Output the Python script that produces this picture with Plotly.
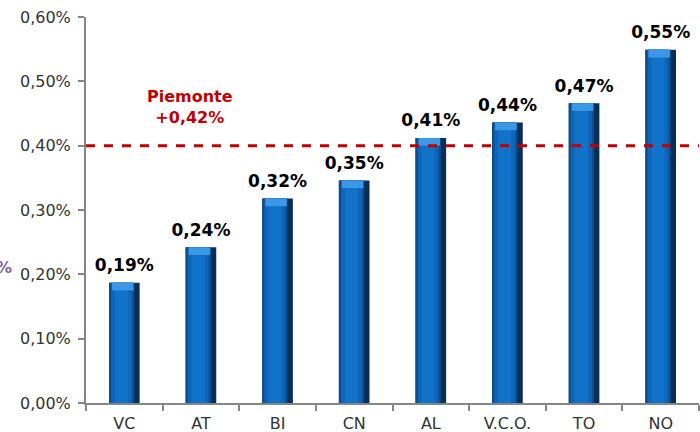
import plotly.graph_objects as go

categories = ["VC", "AT", "BI", "CN", "AL", "V.C.O.", "TO", "NO"]
values = [0.187, 0.242, 0.318, 0.346, 0.412, 0.436, 0.466, 0.549]
piemonte_line = 0.40
piemonte_label = "Piemonte<br>+0,42%"
y_ticks = [0.0, 0.1, 0.2, 0.3, 0.4, 0.5, 0.6]
y_ticktext = [("%.2f%%" % t).replace(".", ",") for t in y_ticks]

FONT = "DejaVu Sans"
fig = go.Figure()

# cylindrical look: layered bars
layers = [
    dict(width=0.40, offset=-0.20, color="#0A2F57"),
    dict(width=0.33, offset=-0.20, color="#0B4F93"),
    dict(width=0.27, offset=-0.17, color="#0D66B8"),
    dict(width=0.17, offset=-0.12, color="#1172C9"),
]
for L in layers:
    fig.add_trace(go.Bar(
        x=categories, y=values, width=L["width"], offset=L["offset"],
        marker=dict(color=L["color"], line=dict(width=0)),
        hoverinfo="skip", showlegend=False,
    ))
# top bevel
bevel = 0.012
fig.add_trace(go.Bar(
    x=categories, y=[bevel] * len(values), base=[v - bevel for v in values],
    width=0.28, offset=-0.16, marker=dict(color="#3C98E6", line=dict(width=0)),
    hoverinfo="skip", showlegend=False,
))
# value labels
fig.add_trace(go.Scatter(
    x=categories, y=values, mode="markers+text",
    marker=dict(size=10, color="rgba(0,0,0,0)"),
    text=[("%.2f%%" % v).replace(".", ",") for v in values],
    textposition="top center",
    textfont=dict(family=FONT, size=17, color="#000000", weight="bold"),
    hoverinfo="skip", showlegend=False, cliponaxis=False,
))

fig.add_shape(type="line", xref="paper", x0=0, x1=1, yref="y",
              y0=piemonte_line, y1=piemonte_line,
              line=dict(color="#C00000", width=3, dash="dash"), layer="above")

fig.add_annotation(text=piemonte_label, xref="paper", x=0.17, xanchor="center",
                   yref="y", y=0.46, showarrow=False, align="center",
                   font=dict(family=FONT, size=16, color="#C00000", weight="bold"))
fig.add_annotation(text="%", xref="paper", x=-0.134, xanchor="center", yref="y", y=0.21,
                   showarrow=False, font=dict(family=FONT, size=16, color="#7F64A1", weight="bold"))

fig.update_layout(
    width=700, height=432, margin=dict(l=86, r=1, t=17, b=29),
    plot_bgcolor="white", paper_bgcolor="white",
    barmode="overlay", separators=",.",
    font=dict(family=FONT, size=16, color="#333333"),
)
fig.update_yaxes(range=[0, 0.6], tickvals=y_ticks, ticktext=y_ticktext, automargin=False,
                 showgrid=False, showline=True, linecolor="#868686", linewidth=2,
                 ticks="outside", ticklen=6, tickcolor="#868686", tickwidth=2,
                 ticklabelstandoff=4,
                 tickfont=dict(family=FONT, size=16, color="#333333"), zeroline=False)
fig.update_xaxes(showgrid=False, showline=True, linecolor="#868686", linewidth=2,
                 ticks="outside", ticklen=6, tickcolor="#868686", tickwidth=2,
                 tickson="boundaries", automargin=False, ticklabelstandoff=5,
                 tickfont=dict(family=FONT, size=16, color="#333333"))

fig.write_html("out.html", config={"displayModeBar": False},
               post_script="document.body.style.margin='0';")
